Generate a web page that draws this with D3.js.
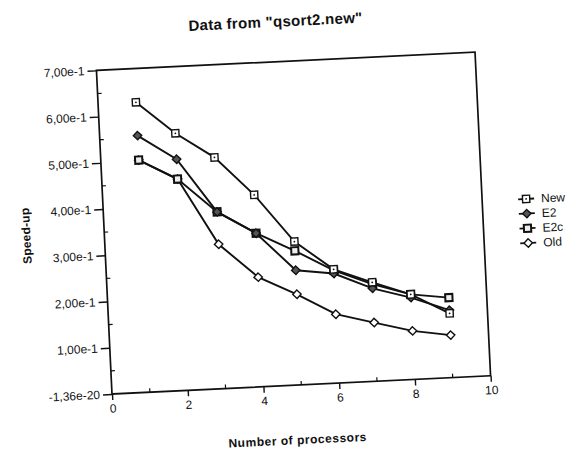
<!DOCTYPE html>
<html><head><meta charset="utf-8">
<script src="https://cdn.jsdelivr.net/npm/d3@7/dist/d3.min.js"></script>
<style>
body{margin:0;background:#fff}
svg{display:block}
text{font-family:"Liberation Sans",Arial,Helvetica,sans-serif;fill:#111}
</style>
</head><body>
<svg id="chart" width="571" height="454"></svg>
<script>
// ---- data ----
const xValues = [1, 2, 3, 4, 5, 6, 7, 8, 9];
const seriesNames = ["New", "E2", "E2c", "Old"];
const newValues = [0.627, 0.556, 0.500, 0.415, 0.310, 0.246, 0.214, 0.184, 0.139];
const e2Values  = [0.555, 0.500, 0.382, 0.332, 0.248, 0.237, 0.201, 0.177, 0.146];
const e2cValues = [0.502, 0.457, 0.382, 0.332, 0.290, 0.244, 0.210, 0.184, 0.173];
const oldValues = [0.502, 0.457, 0.312, 0.237, 0.196, 0.149, 0.127, 0.105, 0.092];
const yTickValues = [0, 0.1, 0.2, 0.3, 0.4, 0.5, 0.6, 0.7];
const yTickLabels = ["-1,36e-20", "1,00e-1", "2,00e-1", "3,00e-1", "4,00e-1", "5,00e-1", "6,00e-1", "7,00e-1"];
const xTickValues = [0, 2, 4, 6, 8, 10];
const xTickLabels = ["0", "2", "4", "6", "8", "10"];
const xMinorTicks = [1, 3, 5, 7, 9];
const yMinorTicks = [0.05, 0.15, 0.25, 0.35, 0.45, 0.55, 0.65];
const titleText = 'Data from "qsort2.new"';
const xTitle = "Number of processors";
const yTitle = "Speed-up";

const allSeries = [newValues, e2Values, e2cValues, oldValues];

// ---- layout ----
const L = 112, T = 70, R = 491, B = 394;
const svg = d3.select("#chart");
const g = svg.append("g").attr("transform", `rotate(-2.75, ${L}, ${B})`);

const x = d3.scaleLinear().domain([0, 10]).range([L, R]);
const y = d3.scaleLinear().domain([0, 0.7]).range([B, T]);

// title
g.append("text").attr("x", 293).attr("y", 35).attr("text-anchor", "middle")
  .attr("textLength", 174).attr("lengthAdjust", "spacing")
  .style("font-size", "15px").style("font-weight", "bold").text(titleText);

// frame
g.append("rect").attr("x", L).attr("y", T).attr("width", R - L).attr("height", B - T)
  .attr("fill", "none").attr("stroke", "#111").attr("stroke-width", 1.7);

// axes
const yAxis = d3.axisLeft(y).tickValues(yTickValues)
  .tickFormat((d, i) => yTickLabels[i]).tickSize(9).tickPadding(3);
const yg = g.append("g").attr("transform", `translate(${L},0)`).call(yAxis);
const xAxis = d3.axisBottom(x).tickValues(xTickValues)
  .tickFormat((d, i) => xTickLabels[i]).tickSize(6).tickPadding(4);
const xg = g.append("g").attr("transform", `translate(0,${B})`).call(xAxis);
[yg, xg].forEach(a => {
  a.select(".domain").remove();
  a.selectAll(".tick line").attr("stroke", "#111").attr("stroke-width", 1.4);
  a.selectAll(".tick text").style("font-size", "12px").style("font-family", '"Liberation Sans",Arial,sans-serif').attr("fill", "#111");
});
// minor ticks
g.append("g").selectAll("line").data(yMinorTicks).join("line")
  .attr("x1", L).attr("x2", L + 4).attr("y1", d => y(d)).attr("y2", d => y(d))
  .attr("stroke", "#111").attr("stroke-width", 1.2);
g.append("g").selectAll("line").data(xMinorTicks).join("line")
  .attr("x1", d => x(d)).attr("x2", d => x(d)).attr("y1", B).attr("y2", B - 4)
  .attr("stroke", "#111").attr("stroke-width", 1.2);

// axis titles
g.append("text").attr("transform", `translate(38,${(T + B) / 2}) rotate(-90)`)
  .attr("text-anchor", "middle").attr("textLength", 56).attr("lengthAdjust", "spacing")
  .style("font-size", "12px").style("font-weight", "bold").text(yTitle);
g.append("text").attr("x", 295).attr("y", 453).attr("text-anchor", "middle")
  .attr("textLength", 138).attr("lengthAdjust", "spacing")
  .style("font-size", "12px").style("font-weight", "bold").text(xTitle);

// markers
function drawMarker(sel, idx, cx, cy) {
  const s = 3.6;
  if (idx === 0) { // New: open square with dot
    sel.append("rect").attr("x", cx - s).attr("y", cy - s).attr("width", 2 * s).attr("height", 2 * s)
      .attr("fill", "#fff").attr("stroke", "#111").attr("stroke-width", 1.4);
    sel.append("circle").attr("cx", cx).attr("cy", cy).attr("r", 0.9).attr("fill", "#111");
  } else if (idx === 1) { // E2: dark diamond
    sel.append("path").attr("d", `M${cx},${cy - 4.2}L${cx + 4.2},${cy}L${cx},${cy + 4.2}L${cx - 4.2},${cy}Z`)
      .attr("fill", "#555").attr("stroke", "#111").attr("stroke-width", 1.4);
  } else if (idx === 2) { // E2c: bold square
    sel.append("rect").attr("x", cx - s).attr("y", cy - s).attr("width", 2 * s).attr("height", 2 * s)
      .attr("fill", "#eee").attr("stroke", "#111").attr("stroke-width", 2);
  } else { // Old: open diamond
    sel.append("path").attr("d", `M${cx},${cy - 4.2}L${cx + 4.2},${cy}L${cx},${cy + 4.2}L${cx - 4.2},${cy}Z`)
      .attr("fill", "#fff").attr("stroke", "#111").attr("stroke-width", 1.4);
  }
}

const line = d3.line().x((d, i) => x(xValues[i])).y(d => y(d));
const linesG = g.append("g");
allSeries.forEach((vals) => {
  linesG.append("path").datum(vals).attr("d", line).attr("fill", "none")
    .attr("stroke", "#111").attr("stroke-width", 1.9);
});
const marksG = g.append("g");
[3, 2, 1, 0].forEach(si => {
  allSeries[si].forEach((v, i) => drawMarker(marksG, si, x(xValues[i]), y(v)));
});

// legend
const legX = 535, legY0 = 219, legStep = 14.7;
seriesNames.forEach((name, i) => {
  const ly = legY0 + i * legStep;
  g.append("line").attr("x1", legX - 8).attr("x2", legX + 8).attr("y1", ly).attr("y2", ly)
    .attr("stroke", "#111").attr("stroke-width", 1.8);
  drawMarker(g, i, legX, ly);
  g.append("text").attr("x", legX + 15).attr("y", ly).attr("dy", "0.35em")
    .style("font-size", "12px").text(name);
});
</script>
</body></html>
